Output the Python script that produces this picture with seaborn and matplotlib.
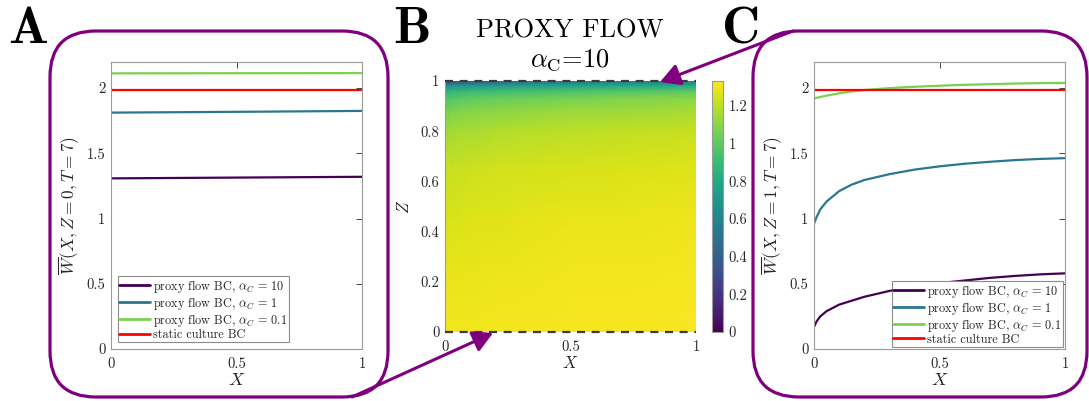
import numpy as np
import pandas as pd
import matplotlib
matplotlib.use("Agg")
import matplotlib.pyplot as plt
import seaborn as sns
from matplotlib.patches import FancyBboxPatch

# ---------------- data ----------------
# Panel A: W at the base (Z = 0), T = 7
x_a = [0.0, 0.5, 1.0]
wa_alpha10 = [1.308, 1.314, 1.320]
wa_alpha1 = [1.812, 1.818, 1.825]
wa_alpha01 = [2.113, 2.114, 2.115]
wa_static = [1.985, 1.985, 1.985]

# Panel C: W at the top (Z = 1), T = 7
x_c = [0.0, 0.01, 0.025, 0.05, 0.1, 0.15, 0.2, 0.3, 0.4, 0.5, 0.6, 0.7, 0.8, 0.9, 1.0]
wc_alpha10 = [0.17, 0.21, 0.25, 0.29, 0.34, 0.37, 0.40, 0.445, 0.48, 0.505, 0.525, 0.545, 0.56, 0.572, 0.58]
wc_alpha1 = [0.96, 1.01, 1.07, 1.13, 1.21, 1.26, 1.295, 1.34, 1.375, 1.40, 1.42, 1.435, 1.448, 1.457, 1.463]
wc_alpha01 = [1.92, 1.925, 1.932, 1.942, 1.96, 1.974, 1.985, 2.0, 2.01, 2.018, 2.025, 2.03, 2.035, 2.038, 2.04]
wc_static = [1.985] * len(x_c)

# Panel B: W(X, Z) field for proxy flow, alpha_C = 10
heat_x = [0.0, 0.025, 0.05, 0.1, 0.2, 0.3, 0.5, 0.7, 1.0]
heat_z = [0.0, 0.20, 0.45, 0.65, 0.80, 0.88, 0.93, 0.96, 0.985, 1.0]
heat_w = [
    [1.308, 1.309, 1.309, 1.310, 1.311, 1.312, 1.314, 1.316, 1.320],
    [1.29, 1.29, 1.29, 1.29, 1.30, 1.30, 1.31, 1.31, 1.315],
    [1.26, 1.26, 1.26, 1.27, 1.27, 1.28, 1.29, 1.29, 1.30],
    [1.22, 1.22, 1.22, 1.23, 1.24, 1.24, 1.25, 1.26, 1.27],
    [1.15, 1.15, 1.16, 1.16, 1.18, 1.19, 1.20, 1.21, 1.22],
    [1.06, 1.07, 1.08, 1.09, 1.10, 1.11, 1.13, 1.14, 1.16],
    [0.97, 0.98, 0.99, 1.01, 1.03, 1.04, 1.06, 1.08, 1.10],
    [0.85, 0.87, 0.88, 0.90, 0.92, 0.93, 0.95, 0.97, 0.99],
    [0.58, 0.62, 0.64, 0.66, 0.69, 0.71, 0.74, 0.76, 0.78],
    [0.17, 0.25, 0.29, 0.34, 0.40, 0.445, 0.505, 0.545, 0.58],
]
cbar_ticks = [0, 0.2, 0.4, 0.6, 0.8, 1.0, 1.2]
cbar_labels = ["0", "0.2", "0.4", "0.6", "0.8", "1", "1.2"]

series_labels = [
    r"proxy flow BC, $\alpha_C\,=\,10$",
    r"proxy flow BC, $\alpha_C\,=\,1$",
    r"proxy flow BC, $\alpha_C\,=\,0.1$",
    "static culture BC",
]
series_colors = ["#440154", "#2a788e", "#7ad151", "#ff0000"]

# ---------------- style ----------------
sns.set_theme(style="white")
plt.rcParams["font.family"] = ["cmr10", "DejaVu Serif"]
plt.rcParams["mathtext.fontset"] = "cm"
plt.rcParams["axes.formatter.use_mathtext"] = True
plt.rcParams["axes.unicode_minus"] = False

W, H = 1089, 401
fig = plt.figure(figsize=(W / 100, H / 100), dpi=100)
fig.patch.set_facecolor("white")

PURPLE = "#7f007f"
TXT = "#262626"
TICK_SIZE = 10.5


def fig_rect(left, top, right, bottom):
    return [left / W, 1 - bottom / H, (right - left) / W, (bottom - top) / H]


def style_axes(ax):
    for s in ax.spines.values():
        s.set_visible(True)
        s.set_color("#9a9a9a")
        s.set_linewidth(0.8)
    ax.tick_params(direction="in", top=True, right=True, length=4, width=0.6,
                   color=TXT, labelsize=TICK_SIZE, labelcolor=TXT)
    ax.tick_params(axis="x", pad=6)
    ax.tick_params(axis="y", pad=4)


def line_panel(rect, x, ys, ylabel, legend_loc, legend_pad):
    ax = fig.add_axes(rect)
    frames = []
    for y, lab in zip(ys, series_labels):
        frames.append(pd.DataFrame({"X": x, "W": y, "series": lab}))
    df = pd.concat(frames, ignore_index=True)
    sns.lineplot(data=df, x="X", y="W", hue="series", palette=series_colors,
                 hue_order=series_labels, linewidth=1.6, ax=ax, sort=True,
                 estimator=None)
    ax.set_xlim(0, 1)
    ax.set_ylim(0, 2.2)
    ax.set_xticks([0, 0.5, 1])
    ax.set_xticklabels(["0", "0.5", "1"])
    ax.set_yticks([0, 0.5, 1, 1.5, 2])
    ax.set_yticklabels(["0", "0.5", "1", "1.5", "2"])
    style_axes(ax)
    ax.set_xlabel(r"$X$", fontsize=13, color=TXT, labelpad=1)
    ax.set_ylabel(ylabel, fontsize=12.5, color=TXT, labelpad=3)
    leg = ax.legend(loc=legend_loc, fontsize=8.8, frameon=True, fancybox=False,
                    edgecolor="#8c8c8c", framealpha=1, handlelength=2.5,
                    handletextpad=0.3, labelspacing=0.0, borderpad=0.12,
                    borderaxespad=legend_pad, title=None)
    leg.get_frame().set_linewidth(0.8)
    for line in leg.get_lines():
        line.set_linewidth(2.0)
    return ax


# Panel A
line_panel(fig_rect(111, 62, 362, 349), x_a,
           [wa_alpha10, wa_alpha1, wa_alpha01, wa_static],
           r"$\overline{W}(X,Z=0,T=7)$", "lower left", 0.55)

# Panel C
line_panel(fig_rect(814, 62, 1065, 349), x_c,
           [wc_alpha10, wc_alpha1, wc_alpha01, wc_static],
           r"$\overline{W}(X,Z=1,T=7)$", "lower right", 0.15)

# Panel B: heat map with colour bar
axb = fig.add_axes(fig_rect(445, 81, 696, 332))
XX, ZZ = np.meshgrid(heat_x, heat_z)
mesh = axb.pcolormesh(XX, ZZ, np.array(heat_w), cmap="viridis", vmin=0, vmax=1.333,
                      shading="gouraud", rasterized=True)
axb.set_xlim(0, 1)
axb.set_ylim(0, 1)
axb.set_xticks([0, 0.5, 1])
axb.set_xticklabels(["0", "0.5", "1"])
axb.set_yticks([0, 0.2, 0.4, 0.6, 0.8, 1])
axb.set_yticklabels(["0", "0.2", "0.4", "0.6", "0.8", "1"])
style_axes(axb)
axb.spines["right"].set_visible(False)
axb.spines["top"].set_visible(False)
axb.spines["bottom"].set_visible(False)
axb.tick_params(top=False, right=False, length=0)
axb.set_xlabel(r"$X$", fontsize=12, color=TXT, labelpad=1)
axb.set_ylabel(r"$Z$", fontsize=12, color=TXT, labelpad=6)
for zb in (0, 1):
    axb.axhline(zb, color="#3a3a3a", lw=1.6, ls=(0, (3.6, 3.0)), clip_on=False, zorder=5)

cax = fig.add_axes(fig_rect(712, 81, 723, 332))
cb = fig.colorbar(mesh, cax=cax)
cb.set_ticks(cbar_ticks)
cb.set_ticklabels(cbar_labels)
cb.outline.set_edgecolor("#9a9a9a")
cb.outline.set_linewidth(0.8)
cax.tick_params(direction="in", length=3, width=0.6, color=TXT, labelsize=TICK_SIZE,
                labelcolor=TXT, pad=4)

# Titles and panel letters
fig.text(570 / W, 1 - 38 / H, "PROXY FLOW", fontsize=19, ha="center", va="baseline", color="black")
fig.text(570 / W, 1 - 67 / H, r"$\alpha_{\mathrm{C}}$=10", fontsize=19, ha="center", va="baseline", color="black")
for letter, xl in (("A", 8), ("B", 393), ("C", 722)):
    fig.text(xl / W, 1 - 43 / H, letter, fontsize=38, family="cmb10",
             ha="left", va="baseline", color="black")

# Overlay in pixel units for the rounded frames and connecting arrows
ov = fig.add_axes([0, 0, 1, 1], zorder=10)
ov.set_xlim(0, W)
ov.set_ylim(H, 0)
ov.axis("off")
ov.patch.set_alpha(0)

for (l, t, r, b) in ((50, 31, 388, 397), (753, 31, 1087, 397)):
    ov.add_patch(FancyBboxPatch((l, t), r - l, b - t,
                                boxstyle="round,pad=0,rounding_size=46",
                                fill=False, edgecolor=PURPLE, linewidth=2.3))

arrow_style = "-|>,head_length=0.6,head_width=0.33"
ov.annotate("", xy=(493, 333), xytext=(352, 397),
            arrowprops=dict(arrowstyle=arrow_style, color=PURPLE, lw=2.2,
                            mutation_scale=20, shrinkA=0, shrinkB=0))
ov.annotate("", xy=(660, 82), xytext=(793, 31),
            arrowprops=dict(arrowstyle=arrow_style, color=PURPLE, lw=2.2,
                            mutation_scale=20, shrinkA=0, shrinkB=0))

fig.savefig("out.png", dpi=100)
